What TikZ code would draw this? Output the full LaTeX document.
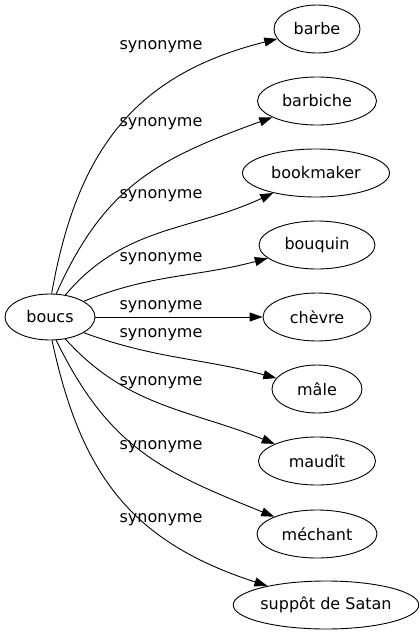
\documentclass[tikz,border=0pt]{standalone}
\usepackage{fontspec}
\setmainfont{DejaVu Sans}
\usetikzlibrary{shapes.geometric,arrows.meta}

\tikzset{
	word/.style={ellipse, draw, line width=0.9pt, minimum height=48pt, inner sep=0pt},
	syn/.style={-{Triangle[length=13pt,width=9pt]}, line width=0.9pt},
	lbl/.style={inner sep=0pt}
}

\begin{document}
\begin{tikzpicture}[x=1pt, y=-1pt, font=\fontsize{16}{19}\selectfont]
	\useasboundingbox (0,0) rectangle (420,635);
	\node [word, minimum width=90pt, minimum height=46pt] (boucs) at (50,317) {boucs};
	\node [word, minimum width=86pt] (barbe) at (317,29) {barbe};
	\node [word, minimum width=119pt] (barbiche) at (317,101) {barbiche};
	\node [word, minimum width=147pt] (bookmaker) at (316,173) {bookmaker};
	\node [word, minimum width=116pt] (bouquin) at (317,245) {bouquin};
	\node [word, minimum width=108pt] (chevre) at (317,317) {chèvre};
	\node [word, minimum width=90pt] (male) at (317,389) {mâle};
	\node [word, minimum width=117pt] (maudit) at (317,461) {maudît};
	\node [word, minimum width=120pt] (mechant) at (317,534) {méchant};
	\node [word, minimum width=178pt] (suppot) at (326,605) {suppôt de Satan};

	\draw [syn] (boucs.86) to [out=80, in=194, looseness=1.1] (barbe);
	\draw [syn] (boucs.75) to [out=66, in=200, looseness=1.1] (barbiche);
	\draw [syn] (boucs.55) to [out=50, in=205] (bookmaker);
	\draw [syn] (boucs.25) to [out=22, in=195] (bouquin);
	\draw [syn] (boucs) -- (chevre);
	\draw [syn] (boucs.-25) to [out=-20, in=165] (male);
	\draw [syn] (boucs.-55) to [out=-48, in=158] (maudit);
	\draw [syn] (boucs.-75) to [out=-64, in=158, looseness=1.1] (mechant);
	\draw [syn] (boucs.-85) to [out=-78, in=162, looseness=1.1] (suppot);

	\node [lbl] (s1) at (161,47) {synonyme};
	\node [lbl] (s2) at (161,124) {synonyme};
	\node [lbl] (s3) at (161,196) {synonyme};
	\node [lbl] (s4) at (161,259) {synonyme};
	\node [lbl] (s5) at (161,307) {synonyme};
	\node [lbl] (s6) at (161,335) {synonyme};
	\node [lbl] (s7) at (161,383) {synonyme};
	\node [lbl] (s8) at (161,447) {synonyme};
	\node [lbl] (s9) at (161,520) {synonyme};
\end{tikzpicture}
\end{document}
